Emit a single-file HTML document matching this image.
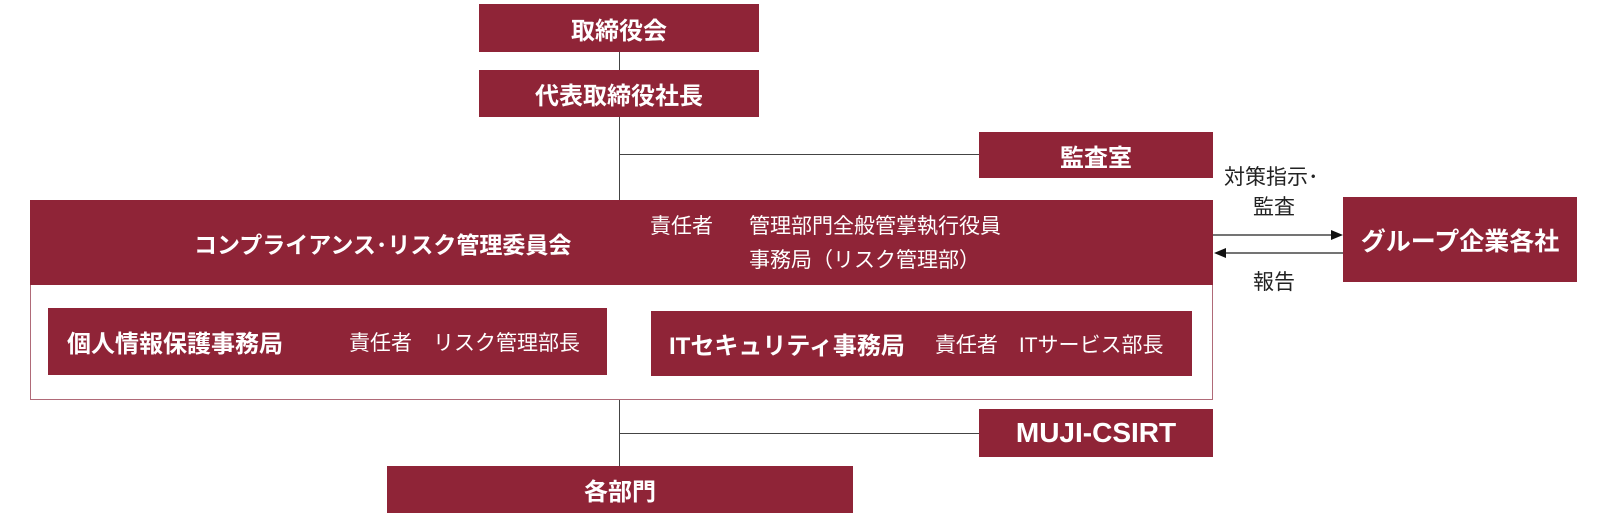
<!DOCTYPE html>
<html><head><meta charset="utf-8"><style>
body{margin:0;width:1608px;height:520px;background:#fff;position:relative;font-family:"Liberation Sans","Noto Sans CJK JP",sans-serif;overflow:hidden}
.b{position:absolute;background:#8f2437;color:#fff;font-weight:bold;font-size:24px;display:flex;align-items:center;justify-content:center;box-sizing:border-box;white-space:nowrap}
.l{position:absolute;background:#444}
.t{position:absolute;color:#222;font-size:21px;white-space:nowrap;line-height:1}
.w{position:absolute;color:#fff;font-size:21px;white-space:nowrap;line-height:1}
.n{font-weight:normal;font-size:21px}
</style></head><body>
<div class="b" style="left:479px;top:4px;width:280px;height:48px">取締役会</div>
<div class="l" style="left:619px;top:52px;width:1px;height:18px"></div>
<div class="b" style="left:479px;top:70px;width:280px;height:47px">代表取締役社長</div>
<div class="l" style="left:619px;top:117px;width:1px;height:83px"></div>
<div class="l" style="left:619px;top:154px;width:360px;height:1px"></div>
<div class="b" style="left:979px;top:132px;width:234px;height:46px">監査室</div>
<div style="position:absolute;left:30px;top:200px;width:1183px;height:200px;border:1px solid #b06a78;box-sizing:border-box"></div>
<div class="b" style="left:30px;top:200px;width:1183px;height:85px;justify-content:flex-start;padding-left:164px;font-size:23px">コンプライアンス･リスク管理委員会</div>
<div class="w" style="left:650px;top:216px">責任者</div>
<div class="w" style="left:749px;top:216px">管理部門全般管掌執行役員</div>
<div class="w" style="left:749px;top:250px">事務局（リスク管理部）</div>
<div class="b" style="left:48px;top:308px;width:559px;height:67px;justify-content:flex-start;padding-left:19px">個人情報保護事務局<span class="n" style="margin-left:66px">責任者　リスク管理部長</span></div>
<div class="b" style="left:651px;top:311px;width:541px;height:65px;justify-content:flex-start;padding-left:18px">ITセキュリティ事務局<span class="n" style="margin-left:30px">責任者　ITサービス部長</span></div>
<div class="l" style="left:619px;top:400px;width:1px;height:66px"></div>
<div class="l" style="left:619px;top:433px;width:360px;height:1px"></div>
<div class="b" style="left:979px;top:409px;width:234px;height:48px;font-size:28px">MUJI-CSIRT</div>
<div class="b" style="left:387px;top:466px;width:466px;height:47px">各部門</div>
<div class="b" style="left:1343px;top:197px;width:234px;height:85px;font-size:25px">グループ企業各社</div>
<div class="t" style="left:1224px;top:167px">対策指示･</div>
<div class="t" style="left:1253px;top:197px">監査</div>
<div class="t" style="left:1253px;top:272px">報告</div>
<svg style="position:absolute;left:0;top:0" width="1608" height="520">
<line x1="1213" y1="235" x2="1333" y2="235" stroke="#222" stroke-width="1.3"/>
<polygon points="1343,235 1331,230 1331,240" fill="#111"/>
<line x1="1225" y1="253" x2="1343" y2="253" stroke="#222" stroke-width="1.3"/>
<polygon points="1214,253 1226,248 1226,258" fill="#111"/>
</svg>
</body></html>
